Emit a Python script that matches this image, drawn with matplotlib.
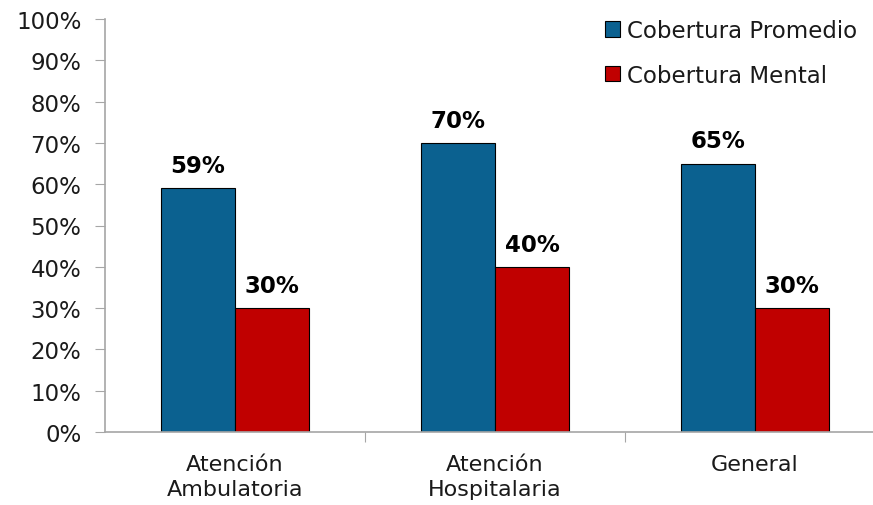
import numpy as np
import matplotlib.pyplot as plt
from matplotlib.ticker import MultipleLocator, FuncFormatter

categories = ['Atención\nAmbulatoria', 'Atención\nHospitalaria', 'General']
promedio = [59, 70, 65]
mental = [30, 40, 30]
series_names = ['Cobertura Promedio', 'Cobertura Mental']

blue = '#0B6190'
red = '#C00000'
axis_grey = '#A6A6A6'
text_col = '#1a1a1a'

plt.rcParams['font.family'] = ['DejaVu Sans']

fig = plt.figure(figsize=(8.73, 5.06), dpi=100)
ax = fig.add_axes([105 / 873, 73 / 506, 768 / 873, 413 / 506])

x = np.arange(len(categories))
w = 0.285
b1 = ax.bar(x - w / 2, promedio, w, color=blue, edgecolor='black', linewidth=0.8,
            label=series_names[0])
b2 = ax.bar(x + w / 2, mental, w, color=red, edgecolor='black', linewidth=0.8,
            label=series_names[1])

for bars, vals in ((b1, promedio), (b2, mental)):
    for rect, v in zip(bars, vals):
        ax.annotate(f'{v}%', (rect.get_x() + rect.get_width() / 2, v),
                    xytext=(0, 8), textcoords='offset points',
                    ha='center', va='bottom', fontsize=16.5, fontweight='bold')

ax.set_ylim(0, 100)
ax.set_xlim(-0.5, 2.454)
ax.yaxis.set_major_locator(MultipleLocator(10))
ax.yaxis.set_major_formatter(FuncFormatter(lambda v, p: f'{v:.0f}%'))

# category labels sit between the boundary tick marks
ax.set_xticks([0.5, 1.5])
ax.set_xticklabels([])
ax.set_xticks(x, minor=True)
ax.set_xticklabels(categories, minor=True, fontsize=16, color=text_col,
                   linespacing=1.28)
ax.tick_params(axis='x', which='minor', length=0, pad=16)
ax.tick_params(axis='x', which='major', length=7, color=axis_grey, direction='out')
ax.tick_params(axis='y', length=7, color=axis_grey, labelsize=16.5,
               labelcolor=text_col, pad=10)

for side in ('top', 'right'):
    ax.spines[side].set_visible(False)
for side in ('left', 'bottom'):
    ax.spines[side].set_color(axis_grey)
    ax.spines[side].set_linewidth(1.2)

leg = ax.legend(loc='upper left', bbox_to_anchor=(605 / 873, 1 - 20 / 506),
                bbox_transform=fig.transFigure, frameon=False,
                fontsize=16.5, handlelength=0.65, handleheight=0.65,
                handletextpad=0.3, labelspacing=0.95, borderpad=0,
                borderaxespad=0)
for t in leg.get_texts():
    t.set_color(text_col)

fig.savefig('out.png', dpi=100)
